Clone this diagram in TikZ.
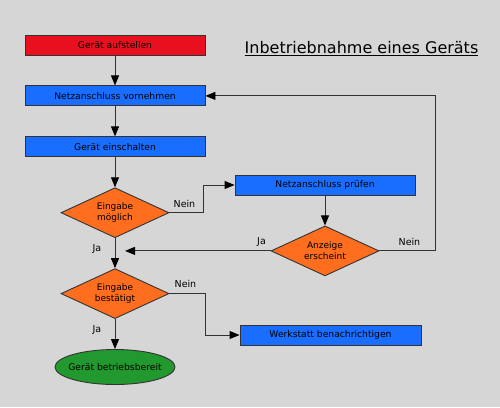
\documentclass[tikz,border=0pt]{standalone}
\usepackage{fontspec}
\setmainfont{DejaVu Sans}
\usepackage{xcolor}
\usepackage{tikz}
\usetikzlibrary{arrows.meta, positioning, shapes.geometric}

\definecolor{bggray}{HTML}{D6D6D6}
\definecolor{linegray}{HTML}{333333}
\definecolor{startred}{HTML}{E8101F}
\definecolor{stepblue}{HTML}{1A6EFF}
\definecolor{askorange}{HTML}{FF6E1E}
\definecolor{endgreen}{HTML}{22992E}

\begin{document}
\begin{tikzpicture}[x=1pt, y=-1pt, node distance=30pt,
    stepbox/.style={draw=linegray, line width=0.9pt, rectangle, minimum width=180pt, minimum height=20pt, inner sep=0pt, fill=stepblue, font=\fontsize{9.2}{11}\selectfont},
    askbox/.style={draw=linegray, line width=0.9pt, diamond, aspect=2.16, minimum width=108pt, minimum height=50pt, inner sep=0pt, fill=askorange, align=center, font=\fontsize{9}{11}\selectfont},
    endbox/.style={draw=linegray, line width=0.9pt, ellipse, minimum width=120pt, minimum height=35pt, inner xsep=-8pt, inner ysep=0pt, fill=endgreen, font=\fontsize{9.2}{11}\selectfont},
    flow/.style={draw=linegray, line width=0.9pt, -{Triangle[length=10pt, width=8pt, color=black]}},
    answer/.style={font=\fontsize{9.5}{11}\selectfont, inner sep=0pt}]

    % Background
    \fill[bggray] (0,0) rectangle (500,407);
    \useasboundingbox (0,0) rectangle (500,407);

    % Title
    \node (title) at (361.5,49) {\fontsize{16}{19}\selectfont\underline{Inbetriebnahme eines Geräts}};

    % Main column
    \node[stepbox, fill=startred] (aufstellen) at (115,45) {Gerät aufstellen};
    \node[stepbox, below=of aufstellen] (vornehmen) {Netzanschluss vornehmen};
    \node[stepbox, below=of vornehmen] (einschalten) {Gerät einschalten};
    \node[askbox, below=of einschalten] (moeglich) {Eingabe \\ möglich};
    \node[askbox, below=of moeglich] (bestaetigt) {Eingabe \\ bestätigt};
    \node[endbox, below=of bestaetigt] (bereit) {Gerät betriebsbereit};

    % Side branch
    \node[stepbox] (pruefen) at (325,185) {Netzanschluss prüfen};
    \node[askbox, below=of pruefen] (anzeige) {Anzeige \\ erscheint};
    \node[stepbox, minimum width=181pt] (werkstatt) at (330.5,335) {Werkstatt benachrichtigen};

    % Merge point
    \coordinate (merge) at ([xshift=10pt]moeglich.south |- anzeige.west);

    % Arrows
    \draw[flow] (aufstellen) -- (vornehmen);
    \draw[flow] (vornehmen) -- (einschalten);
    \draw[flow] (einschalten) -- (moeglich);
    \draw[flow] (moeglich) -- (bestaetigt);
    \draw[flow] (bestaetigt) -- (bereit);
    \draw[flow] (moeglich.east) -- ++(34,0) |- (pruefen.west);
    \draw[flow] (pruefen) -- (anzeige);
    \draw[flow] (anzeige.west) -- (merge);
    \draw[flow] (anzeige.east) -- ++(56,0) |- (vornehmen.east);
    \draw[flow] (bestaetigt.east) -- ++(36,0) |- (werkstatt.west);

    % Labels
    \node[answer] (nein_moeglich) at ([shift={(15,-9)}]moeglich.east) {Nein};
    \node[answer] (ja_moeglich) at ([shift={(-18,11)}]moeglich.south) {Ja};
    \node[answer] (ja_anzeige) at ([shift={(-9,-9)}]anzeige.west) {Ja};
    \node[answer] (nein_anzeige) at ([shift={(30,-9)}]anzeige.east) {Nein};
    \node[answer] (nein_bestaetigt) at ([shift={(16,-10)}]bestaetigt.east) {Nein};
    \node[answer] (ja_bestaetigt) at ([shift={(-18,11)}]bestaetigt.south) {Ja};

\end{tikzpicture}
\end{document}
